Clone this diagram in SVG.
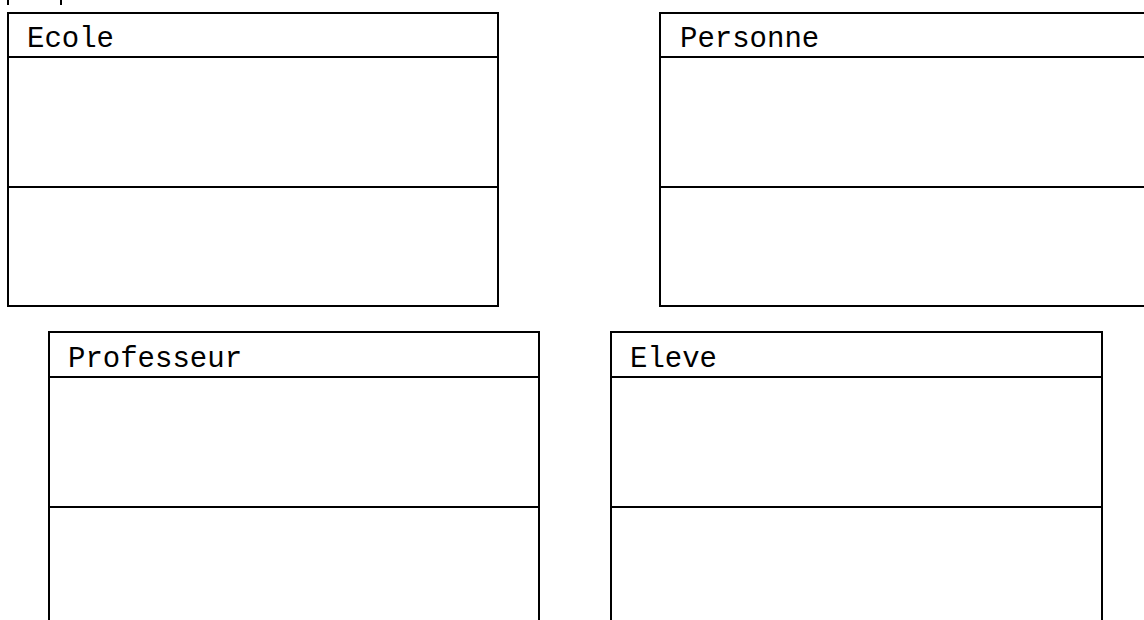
<svg xmlns="http://www.w3.org/2000/svg" width="1144" height="620" viewBox="0 0 1144 620">
<style>
.box{fill:#fff;stroke:#000;stroke-width:2}
.ln{stroke:#000;stroke-width:2;fill:none}
.t{font-family:"Liberation Mono","Courier New",monospace;font-size:29px;fill:#000}
</style>
<rect width="1144" height="620" fill="#fff"/>
<g id="cut">
<line class="ln" x1="8" y1="0" x2="8" y2="5"/>
<line class="ln" x1="61" y1="0" x2="61" y2="5"/>
</g>
<g id="Ecole">
<rect class="box" x="8" y="13" width="490" height="293"/>
<line class="ln" x1="8" y1="57" x2="498" y2="57"/>
<line class="ln" x1="8" y1="187" x2="498" y2="187"/>
<text class="t" x="27" y="47">Ecole</text>
</g>
<g id="Personne">
<rect class="box" x="660" y="13" width="500" height="293"/>
<line class="ln" x1="660" y1="57" x2="1160" y2="57"/>
<line class="ln" x1="660" y1="187" x2="1160" y2="187"/>
<text class="t" x="680" y="47">Personne</text>
</g>
<g id="Professeur">
<rect class="box" x="49" y="332" width="490" height="300"/>
<line class="ln" x1="49" y1="377" x2="539" y2="377"/>
<line class="ln" x1="49" y1="507" x2="539" y2="507"/>
<text class="t" x="68" y="367">Professeur</text>
</g>
<g id="Eleve">
<rect class="box" x="611" y="332" width="491" height="300"/>
<line class="ln" x1="611" y1="377" x2="1102" y2="377"/>
<line class="ln" x1="611" y1="507" x2="1102" y2="507"/>
<text class="t" x="630" y="367">Eleve</text>
</g>
<g id="connectors"></g>
</svg>
